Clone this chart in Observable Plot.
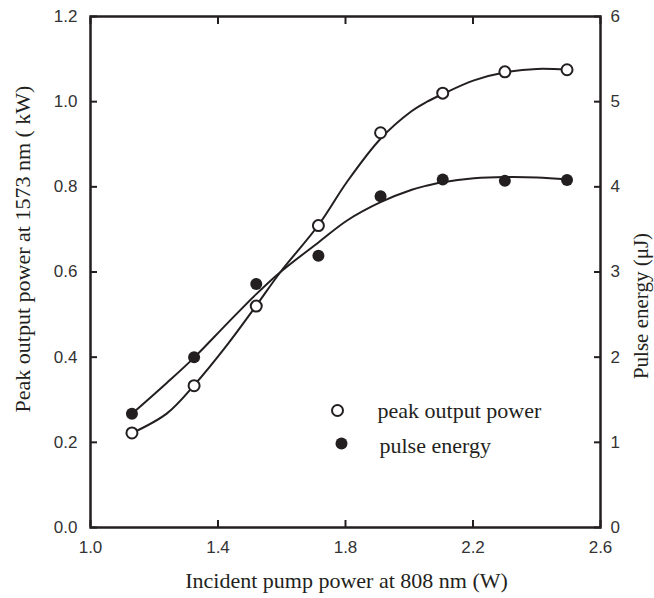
<!DOCTYPE html>
<html><head><meta charset="utf-8">
<script src="https://cdn.jsdelivr.net/npm/d3@7"></script>
<script src="https://cdn.jsdelivr.net/npm/@observablehq/plot@0.6"></script>
<style>body{margin:0;background:#fff}</style>
</head><body><div id="chart"></div>
<script>
// measured points
const pumpPower   = [1.13, 1.325, 1.52, 1.715, 1.91, 2.105, 2.30, 2.495];   // W
const peakPower   = [0.222, 0.333, 0.520, 0.709, 0.927, 1.020, 1.070, 1.075]; // kW
const pulseEnergy = [1.335, 2.00, 2.86, 3.19, 3.89, 4.085, 4.07, 4.08];      // µJ

// fitted curves
const fitPump       = [1.13, 1.24, 1.325, 1.43, 1.52, 1.596, 1.716, 1.805, 1.91, 2.008, 2.056, 2.105, 2.203, 2.302, 2.401, 2.496];
const fitPeakPower  = [0.2215, 0.268, 0.334, 0.430, 0.521, 0.600, 0.711, 0.812, 0.913, 0.978, 1.000, 1.018, 1.050, 1.069, 1.077, 1.075];
const fitPulseEnergy= [1.335, 1.70, 1.995, 2.40, 2.74, 3.00, 3.35, 3.605, 3.82, 3.965, 4.015, 4.055, 4.10, 4.115, 4.11, 4.085];

// tick labels
const xTicks     = [1.0, 1.4, 1.8, 2.2, 2.6];
const leftTicks  = [0.0, 0.2, 0.4, 0.6, 0.8, 1.0, 1.2];
const rightTicks = [0, 1, 2, 3, 4, 5, 6];

const xTitle = "Incident pump power at 808 nm (W)";
const leftTitle = "Peak output power at 1573 nm ( kW)";
const rightTitle = "Pulse energy (\u03BCJ)";
const legendLabels = ["peak output power", "pulse energy"];

const ratio = 5; // right axis units per left axis unit
const ink = "#231f20";
const serif = "'Liberation Serif', 'Times New Roman', serif";

const peakRows = pumpPower.map((x, i) => ({x, y: peakPower[i]}));
const energyRows = pumpPower.map((x, i) => ({x, y: pulseEnergy[i] / ratio}));
const peakFitRows = fitPump.map((x, i) => ({x, y: fitPeakPower[i]}));
const energyFitRows = fitPump.map((x, i) => ({x, y: fitPulseEnergy[i] / ratio}));

const chart = Plot.plot({
  width: 654, height: 598,
  marginTop: 16, marginRight: 54, marginBottom: 71, marginLeft: 90,
  style: {fontFamily: "'Liberation Sans', Arial, sans-serif", fontSize: "17px", color: ink, background: "#fff", overflow: "visible"},
  x: {domain: [1.0, 2.6]},
  y: {domain: [0, 1.2]},
  marks: [
    Plot.axisX(xTicks, {anchor: "bottom", tickSize: -7, tickPadding: 20, strokeWidth: 2, tickFormat: d => d.toFixed(1), label: null, fill: "#333"}),
    Plot.axisX(xTicks, {anchor: "top", tickSize: -7, strokeWidth: 2, tickFormat: () => "", label: null}),
    Plot.axisY(leftTicks, {anchor: "left", tickSize: -7, tickPadding: 20, strokeWidth: 2, tickFormat: d => d.toFixed(1), label: null, fill: "#333"}),
    Plot.axisY(rightTicks.map(d => d / ratio), {anchor: "right", tickSize: -7, tickPadding: 17, strokeWidth: 2, tickFormat: d => String(Math.round(d * ratio)), label: null, fill: "#333"}),
    Plot.frame({stroke: ink, strokeWidth: 2.5}),
    Plot.line(peakFitRows, {x: "x", y: "y", curve: "catmull-rom", stroke: ink, strokeWidth: 2}),
    Plot.line(energyFitRows, {x: "x", y: "y", curve: "catmull-rom", stroke: ink, strokeWidth: 2}),
    Plot.dot(energyRows, {x: "x", y: "y", r: 6, fill: ink, stroke: "none"}),
    Plot.dot(peakRows, {x: "x", y: "y", r: 5.5, fill: "white", stroke: ink, strokeWidth: 2}),
    // axis titles
    Plot.text([xTitle], {frameAnchor: "bottom", dx: 1, dy: 53, textAnchor: "middle", lineAnchor: "middle", fontFamily: serif, fontSize: 22, fill: ink}),
    Plot.text([leftTitle], {frameAnchor: "left", dx: -68, dy: -23, rotate: -90, textAnchor: "middle", lineAnchor: "middle", fontFamily: serif, fontSize: 22, fill: ink}),
    Plot.text([rightTitle], {frameAnchor: "right", dx: 41, dy: 34, rotate: -90, textAnchor: "middle", lineAnchor: "middle", fontFamily: serif, fontSize: 21, fill: ink}),
    // legend
    Plot.dot([legendLabels[0]], {frameAnchor: "top-left", dx: 247, dy: 394, r: 5.5, fill: "white", stroke: ink, strokeWidth: 2}),
    Plot.dot([legendLabels[1]], {frameAnchor: "top-left", dx: 251, dy: 427, r: 6, fill: ink}),
    Plot.text([legendLabels[0]], {frameAnchor: "top-left", dx: 287, dy: 394, textAnchor: "start", lineAnchor: "middle", fontFamily: serif, fontSize: 22, fill: ink}),
    Plot.text([legendLabels[1]], {frameAnchor: "top-left", dx: 289, dy: 429, textAnchor: "start", lineAnchor: "middle", fontFamily: serif, fontSize: 22, fill: ink})
  ]
});
document.getElementById("chart").appendChild(chart);
</script>
</body></html>
